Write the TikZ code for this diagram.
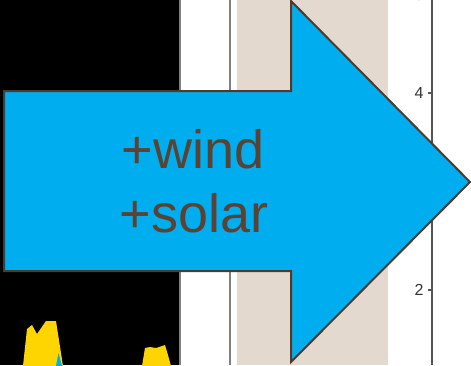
\documentclass[tikz,border=0pt]{standalone}
\usepackage{fontspec}
\setmainfont{Liberation Sans}
\definecolor{arrowblue}{HTML}{00AEEF}
\definecolor{edgebrown}{HTML}{4D3B30}
\definecolor{textbrown}{HTML}{5B4233}
\definecolor{sandbeige}{HTML}{E3D9CF}
\definecolor{sungold}{HTML}{FFD500}
\definecolor{axisgray}{HTML}{555555}
\begin{document}
\begin{tikzpicture}[x=0.5pt, y=-0.5pt,
        ticklabel/.style={font=\fontsize{8}{9}\selectfont, text=black!80, anchor=east, inner sep=0pt},
        bigtext/.style={font=\fontsize{27}{31}\selectfont, text=textbrown, anchor=base, inner sep=0pt}]
    \useasboundingbox (0,0) rectangle (471,365);
    \clip (0,0) rectangle (471,365);
    % panels behind the arrow
    \fill[black] (0,0) rectangle (180,365);
    \fill[sandbeige] (237,0) rectangle (388,365);
    \draw[gray, line width=1pt] (180,0) -- (180,365);
    \draw[gray, line width=1pt] (229.5,0) -- (229.5,365);
    % yellow peaks
    \fill[sungold] (23,366) -- (27,329) -- (32,325) -- (37,334) -- (46,321) -- (56,321) -- (63,366) -- cycle;
    \fill[arrowblue] (56,366) -- (58.5,353) -- (62,366) -- cycle;
    \fill[sungold] (142,366) -- (145,348) -- (150,347) -- (156,348) -- (165,345) -- (168,355) -- (171,366) -- cycle;
    % axis
    \draw[axisgray, line width=0.8pt] (432,0) -- (432,365);
    \foreach \y/\lab in {-5/5, 93/4, 290/2} {
        \draw[axisgray, line width=0.6pt] (428,\y) -- (432,\y);
        \node[ticklabel] (tick\lab) at (424,\y) {\lab};
    }
    % arrow
    \draw[fill=arrowblue, draw=edgebrown, line width=1pt, line join=miter]
        (4,91) -- (291,91) -- (291,1) -- (470,182) -- (291,362) -- (291,271) -- (4,271) -- cycle;
    \node[bigtext] (wind) at (193,168) {+wind};
    \node[bigtext] (solar) at (194,232) {+solar};
\end{tikzpicture}
\end{document}
